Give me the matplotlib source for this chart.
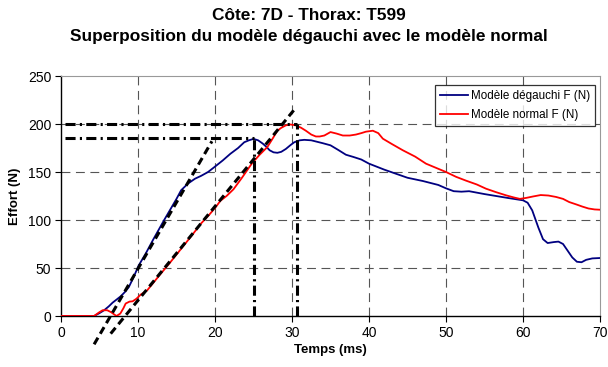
import matplotlib
matplotlib.use("Agg")
import matplotlib.pyplot as plt

plt.rcParams["font.family"] = ["Liberation Sans", "DejaVu Sans"]

# Modèle dégauchi (bleu)
t_degauchi = [0, 4.3, 5.0, 5.6, 6.2, 6.7, 7.2, 7.75, 8.3, 8.8, 9.4, 10.1, 11.0,
              12.0, 13.4, 15.0, 15.6, 16.5, 17.4, 18.2, 19.1, 19.9, 21.0, 22.0,
              23.0, 23.8, 24.4, 25.0, 25.6, 26.2, 26.7, 27.1, 27.6, 28.1, 28.6,
              29.2, 29.8, 30.3, 31.0, 31.6, 32.5, 34.0, 35.0, 36.0, 37.0, 38.0,
              39.0, 40.0, 42.0, 45.0, 47.0, 49.0, 50.0, 51.0, 52.0, 53.0, 55.0,
              58.0, 60.0, 60.6, 61.2, 62.0, 62.6, 63.2, 64.0, 64.6, 65.2, 65.8,
              66.4, 67.0, 67.6, 68.2, 69.0, 70.0]
f_degauchi = [0, 0, 3, 6, 10, 13.9, 17, 20.5, 25, 30, 40, 52.8, 65,
              80, 100, 122, 131, 138, 143, 146, 150, 155, 162, 169,
              175, 181, 183, 184.5, 183, 179.6, 176, 172.6, 170.5, 170, 171,
              174, 178, 181, 183, 183.5, 183, 180, 177.8, 173, 168, 165.6,
              163, 158.7, 152.4, 144, 140.6, 136.5, 133, 130, 129.5, 130, 127,
              123, 120.5, 118, 110, 92, 80, 76, 77, 77.5, 75, 68,
              61, 56.5, 56, 58.5, 60, 60.4]

# Modèle normal (rouge)
t_normal = [0, 4.3, 4.9, 5.4, 6.0, 6.5, 6.9, 7.2, 7.7, 8.1, 8.4, 8.9, 9.3, 9.8,
            10.35, 11.2, 11.9, 12.95, 14.0, 14.7, 15.8, 17.0, 18.2, 19.2, 20.1,
            20.7, 21.5, 22.4, 23.5, 24.8, 25.8, 26.8, 27.5, 28.1, 28.6, 29.2,
            29.8, 30.5, 31.2, 31.8, 32.5, 33.1, 33.6, 34.2, 35.0, 35.8, 36.6,
            37.5, 38.3, 39.0, 39.6, 40.5, 41.2, 41.8, 43.0, 44.4, 46.0, 47.4,
            48.8, 50.0, 51.3, 52.6, 54.0, 55.2, 56.5, 57.8, 58.8, 59.6, 60.4,
            61.3, 62.3, 63.3, 64.3, 65.2, 66.0, 67.0, 67.7, 68.5, 69.3, 70.0]
f_normal = [0, 0, 3.5, 6, 6, 4, 1.7, 0, 2.5, 8, 13, 15, 15.3, 18,
            22.3, 26.8, 33.7, 44, 54, 61, 72, 84, 96.5, 105, 113.5,
            120, 125, 132, 144, 159, 168, 176, 185, 193, 196, 198.6,
            199.5, 198.6, 196, 193, 189, 187, 187, 188, 191.6, 190, 188,
            188, 189, 190.5, 192, 193, 190.5, 184.7, 179, 172.6, 166, 158.7,
            154, 150, 145, 141, 137, 132.6, 129, 125.7, 123.5, 122, 123,
            124.5, 126, 125.5, 124, 122, 118.7, 116, 114, 112, 111, 110.7]

# Tangentes (pointillés)
tan_deg_t = [4.3, 19.6]
tan_deg_f = [-29.5, 182]
tan_nor_t = [6.45, 30.3]
tan_nor_f = [-18.4, 215]

# Pics (traits mixtes)
pic_deg = (25.0, 185)
pic_nor = (30.7, 200)

fig = plt.figure(figsize=(6.08, 3.67), dpi=100)
ax = fig.add_axes([61 / 608, 1 - 316 / 367, 539 / 608, 240 / 367])

ax.set_xlim(0, 70)
ax.set_ylim(0, 250)
ax.set_xticks(range(0, 71, 10))
ax.set_yticks(range(0, 251, 50))

# grille
for x in range(10, 70, 10):
    ax.axvline(x, color="#555555", lw=0.8, ls=(0, (8, 5)), zorder=1)
for y in range(50, 250, 50):
    ax.axhline(y, color="#555555", lw=0.8, ls=(0, (8, 5)), zorder=1)

ax.plot(t_degauchi, f_degauchi, color="#000080", lw=1.3, zorder=3,
        label="Modèle dégauchi F (N)")
ax.plot(t_normal, f_normal, color="#ff0000", lw=1.3, zorder=3,
        label="Modèle normal F (N)")

ax.plot(tan_deg_t, tan_deg_f, color="black", lw=2.2, ls=(0, (2.5, 1.5)),
        clip_on=False, zorder=4)
ax.plot(tan_nor_t, tan_nor_f, color="black", lw=2.2, ls=(0, (2.5, 1.5)),
        clip_on=False, zorder=4)

dashdot = (0, (3.3, 1.4, 0.7, 1.4))
for px, py in (pic_deg, pic_nor):
    ax.plot([0.5, px], [py, py], color="black", lw=2.2, ls=dashdot, zorder=4)
    ax.plot([px, px], [0, py], color="black", lw=2.2, ls=dashdot, zorder=4)

for s in ("top", "right"):
    ax.spines[s].set_color("#999999")
    ax.spines[s].set_linewidth(0.8)
for s in ("left", "bottom"):
    ax.spines[s].set_color("black")
    ax.spines[s].set_linewidth(1.0)

ax.tick_params(direction="out", length=4, width=0.8, labelsize=10,
               colors="black", pad=3)

ax.set_xlabel("Temps (ms)", fontsize=9.5, fontweight="bold", labelpad=3)
ax.set_ylabel("Effort (N)", fontsize=9.5, fontweight="bold", labelpad=5)

leg = ax.legend(loc="upper right", bbox_to_anchor=(0.9907, 0.9625),
                borderaxespad=0, fontsize=8.4, frameon=True, fancybox=False,
                edgecolor="black", handlelength=2.4, borderpad=0.45,
                labelspacing=0.55, handletextpad=0.2)
leg.get_frame().set_linewidth(0.9)

fig.text(309 / 608, 1 - 15 / 367, "Côte: 7D - Thorax: T599", ha="center",
         va="center", fontsize=12.4, fontweight="bold")
fig.text(309 / 608, 1 - 36 / 367,
         "Superposition du modèle dégauchi avec le modèle normal",
         ha="center", va="center", fontsize=12.4, fontweight="bold")

fig.savefig("out.png", dpi=100)
